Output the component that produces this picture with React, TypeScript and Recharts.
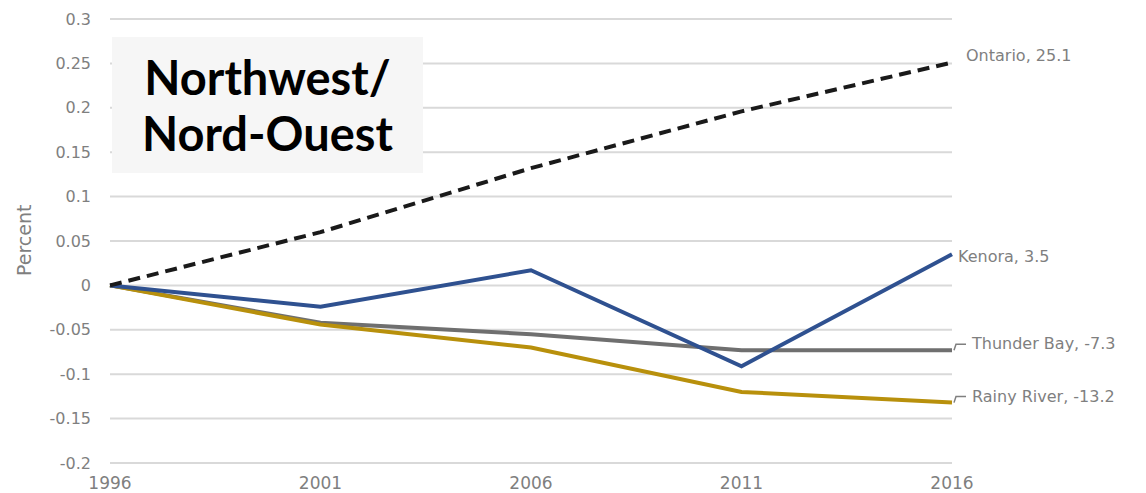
import React from 'react';
import { LineChart, Line, XAxis, YAxis, CartesianGrid, LabelList } from 'recharts';

const years = [1996, 2001, 2006, 2011, 2016];
const ontario = [0, 0.06, 0.132, 0.196, 0.251];
const kenora = [0, -0.024, 0.017, -0.091, 0.035];
const thunderBay = [0, -0.042, -0.055, -0.073, -0.073];
const rainyRiver = [0, -0.044, -0.07, -0.12, -0.132];
const yTicks = [-0.2, -0.15, -0.1, -0.05, 0, 0.05, 0.1, 0.15, 0.2, 0.25, 0.3];

const seriesNames = ['Ontario, 25.1', 'Kenora, 3.5', 'Thunder Bay, -7.3', 'Rainy River, -13.2'];

const data = years.map((y, i) => ({
  year: y,
  ontario: ontario[i],
  kenora: kenora[i],
  thunderBay: thunderBay[i],
  rainyRiver: rainyRiver[i],
}));

const FONT = "'DejaVu Sans', sans-serif";
const GREY = '#7f7f7f';
const last = years.length - 1;

// end-of-line label; leader = draw the little bracket like the source
const endLabel = (text: string, dx: number, dy: number, leader: boolean) => (props: any) => {
  const { x, y, index } = props;
  if (index !== last) return null;
  return (
    <g>
      {leader && (
        <path
          d={`M${x + 2},${y} L${x + 4},${y - 6} L${x + 14},${y - 6}`}
          stroke={GREY}
          strokeWidth={1.5}
          fill="none"
        />
      )}
      <text x={x + dx} y={y + dy} fill={GREY} fontSize={16} fontFamily={FONT} dominantBaseline="middle">
        {text}
      </text>
    </g>
  );
};

const YearTick = (props: any) => {
  const { x, y, payload } = props;
  return (
    <text x={x} y={y} dy={18} textAnchor="middle" fill={GREY} fontSize={17} fontFamily={FONT}>
      {payload.value}
    </text>
  );
};

export default function App() {
  return (
    <div style={{ position: 'absolute', left: 0, top: 0, width: 1146, height: 493, background: '#fff' }}>
      <LineChart width={1146} height={493} data={data} margin={{ top: 19, right: 194, left: 0, bottom: 0 }}>
        <CartesianGrid vertical={false} stroke="#d9d9d9" strokeWidth={2} />
        <XAxis
          dataKey="year"
          type="number"
          domain={[1996, 2016]}
          ticks={years}
          axisLine={false}
          tickLine={false}
          height={30}
          tickMargin={2}
          tick={<YearTick />}
        />
        <YAxis
          type="number"
          domain={[-0.2, 0.3]}
          ticks={yTicks}
          interval={0}
          axisLine={false}
          tickLine={false}
          width={110}
          tickMargin={13}
          tick={{ fill: GREY, fontSize: 16, fontFamily: FONT }}
          label={{ value: 'Percent', angle: -90, position: 'insideLeft', offset: 24, fill: GREY, fontSize: 19, fontFamily: FONT, dy: 35 }}
        />
        <Line dataKey="thunderBay" stroke="#6f6f6f" strokeWidth={4} dot={false} isAnimationActive={false}>
          <LabelList content={endLabel(seriesNames[2], 20, -6, true)} />
        </Line>
        <Line dataKey="rainyRiver" stroke="#b8900c" strokeWidth={4} dot={false} isAnimationActive={false}>
          <LabelList content={endLabel(seriesNames[3], 20, -5, true)} />
        </Line>
        <Line dataKey="kenora" stroke="#2f5190" strokeWidth={4} dot={false} isAnimationActive={false}>
          <LabelList content={endLabel(seriesNames[1], 6, 3, false)} />
        </Line>
        <Line dataKey="ontario" stroke="#1a1a1a" strokeWidth={4} strokeDasharray="12 7" dot={false} isAnimationActive={false}>
          <LabelList content={endLabel(seriesNames[0], 14, -6, false)} />
        </Line>
      </LineChart>
      <div
        style={{
          position: 'absolute',
          left: 112,
          top: 37,
          width: 311,
          height: 136,
          background: '#f6f6f6',
          display: 'flex',
          flexDirection: 'column',
          alignItems: 'center',
          justifyContent: 'center',
          fontFamily: "Lato, 'DejaVu Sans', sans-serif",
          fontWeight: 700,
          fontSize: 47,
          lineHeight: '56px',
          color: '#000',
        }}
      >
        <div>Northwest/</div>
        <div>Nord-Ouest</div>
      </div>
    </div>
  );
}
